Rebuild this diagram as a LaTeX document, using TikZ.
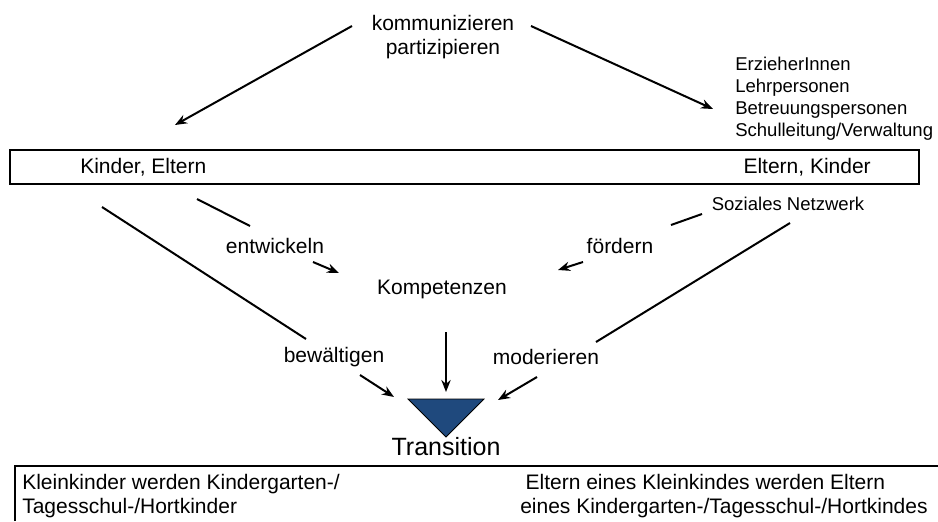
\documentclass[tikz,border=0pt]{standalone}
\usepackage{fontspec}
\setmainfont{Liberation Sans}
\usetikzlibrary{positioning,arrows.meta}
\definecolor{trifill}{RGB}{31,73,125}

\begin{document}
\begin{tikzpicture}[x=0.75pt,y=-0.75pt,
		txt/.style={inner sep=0pt,font=\fontsize{15.75}{18.5}\selectfont},
		small/.style={inner sep=0pt,align=left,font=\fontsize{13.9}{16.4}\selectfont},
		arr/.style={line width=1.5pt,-{Stealth[length=9pt,width=7pt]}},
		seg/.style={line width=1.5pt},
		frame/.style={draw,line width=0.8pt}]
		\useasboundingbox (0,0) rectangle (938,521);
		% top
		\node[txt,align=center] (komm) at (443,37) {kommunizieren\\partizipieren};
		\node[small,anchor=west] (staff) at (735,99) {ErzieherInnen\\Lehrpersonen\\Betreuungspersonen\\Schulleitung/Verwaltung};
		\coordinate (kL) at (352,26);
		\coordinate (kR) at (531,26);
		\coordinate (tL) at (175,125);
		\coordinate (tR) at (713,109);
		\draw[arr] (kL) -- (tL);
		\draw[arr] (kR) -- (tR);
		% box with the actors
		\draw[frame] (10,150) rectangle (919,184);
		\node[txt,anchor=west] (kiel) at (80,167) {Kinder, Eltern};
		\node[txt,anchor=east] (elki) at (871,167) {Eltern, Kinder};
		\node[small] (netz) at (788,204) {Soziales Netzwerk};
		% middle
		\node[txt] (komp) at (442,289) {Kompetenzen};
		\node[txt] (entw) at (275,246) {entwickeln};
		\node[txt] (foerd) at (620,246) {f\"ordern};
		\node[txt] (bew) at (334,357) {bew\"altigen};
		\node[txt] (mod) at (546,357) {moderieren};
		% triangle
		\coordinate (triL) at (408,399);
		\coordinate (triR) at (484,399);
		\coordinate (triB) at (446,437);
		\filldraw[fill=trifill,draw=black,line width=0.6pt] (triL) -- (triR) -- (triB) -- cycle;
		\node[inner sep=0pt,font=\fontsize{18.75}{22}\selectfont] (trans) at (446,447) {Transition};
		% left lines
		\coordinate (a1) at (102,207);
		\coordinate (a2) at (306,339);
		\coordinate (a3) at (360,375);
		\coordinate (a4) at (394,397);
		\draw[seg] (a1) -- (a2);
		\draw[arr] (a3) -- (a4);
		\coordinate (b1) at (197,199);
		\coordinate (b2) at (250,226);
		\coordinate (b3) at (313,262);
		\coordinate (b4) at (339,273);
		\draw[seg] (b1) -- (b2);
		\draw[arr] (b3) -- (b4);
		% right lines
		\coordinate (c1) at (702,214);
		\coordinate (c2) at (671,225);
		\coordinate (c3) at (583,262);
		\coordinate (c4) at (558,270);
		\draw[seg] (c1) -- (c2);
		\draw[arr] (c3) -- (c4);
		\coordinate (d1) at (790,223);
		\coordinate (d2) at (596,342);
		\coordinate (d3) at (537,377);
		\coordinate (d4) at (498,400);
		\draw[seg] (d1) -- (d2);
		\draw[arr] (d3) -- (d4);
		\coordinate (ku) at (446,332);
		\coordinate (kd) at (446,392);
		\draw[arr] (ku) -- (kd);
		% bottom box
		\draw[frame] (15,521) -- (15,466) -- (938,466);
		\node[txt,anchor=north west,align=left,font=\fontsize{15.75}{18}\selectfont] (kids) at (22,474) {Kleinkinder werden Kindergarten-/\\Tagesschul-/Hortkinder};
		\node[txt,anchor=north west,align=left,font=\fontsize{15.75}{18}\selectfont] (par) at (520,474) {\hspace{4pt}Eltern eines Kleinkindes werden Eltern\\eines Kindergarten-/Tagesschul-/Hortkindes};
	\end{tikzpicture}
\end{document}
